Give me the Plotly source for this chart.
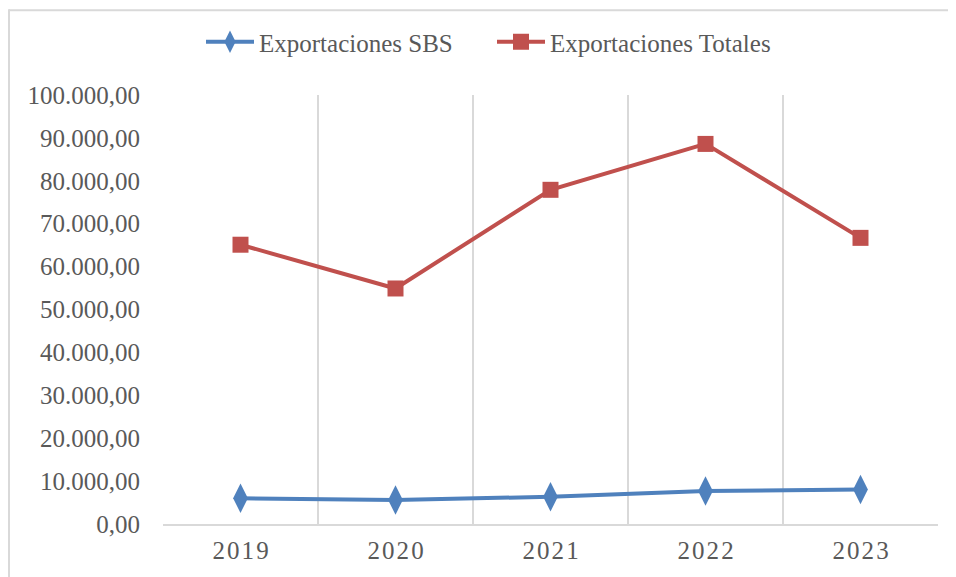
import plotly.graph_objects as go

years = ["2019", "2020", "2021", "2022", "2023"]
sbs = [6000, 5600, 6350, 7700, 8050]
totales = [65100, 54900, 77900, 88600, 66700]
y_ticks = [0, 10000, 20000, 30000, 40000, 50000, 60000, 70000, 80000, 90000, 100000]

FONT = "Liberation Serif"
GRAY = "#595959"
FS = 25

tick_text = ["\u200a".join(list(y)) for y in years]

fig = go.Figure()
fig.add_trace(go.Scatter(
    x=years, y=sbs, name="Exportaciones SBS", mode="lines+markers",
    line=dict(color="#4f81bd", width=4),
    marker=dict(symbol="diamond-tall", size=21, color="#4f81bd"),
))
fig.add_trace(go.Scatter(
    x=years, y=totales, name="Exportaciones Totales", mode="lines+markers",
    line=dict(color="#c0504d", width=4),
    marker=dict(symbol="square", size=16, color="#c0504d"),
))

# page body has an 8px offset
OFF = 8
W, H = 956 - OFF, 577 - OFF
L, T = 163 - OFF, 94 - OFF
R = W - (938 - OFF)
B = H - (524 - OFF)
pw, ph = W - L - R, H - T - B

def px_x(x):
    return (x - OFF - L) / pw

def px_y(y):
    return (H - B - (y - OFF)) / ph

fig.update_layout(
    width=W, height=H,
    margin=dict(l=L, r=R, t=T, b=B),
    paper_bgcolor="white", plot_bgcolor="white",
    separators=",.",
    font=dict(family=FONT, size=FS, color=GRAY),
    showlegend=True,
    legend=dict(orientation="h", x=px_x(492), xanchor="center",
                y=px_y(42), yanchor="middle",
                font=dict(family=FONT, size=FS, color=GRAY),
                itemwidth=48, entrywidth=228, entrywidthmode="pixels",
                tracegroupgap=0),
    shapes=[
        dict(type="line", xref="paper", yref="paper", x0=px_x(9), x1=px_x(9),
             y0=px_y(8), y1=px_y(600), line=dict(color="#d9d9d9", width=2)),
        dict(type="line", xref="paper", yref="paper", x0=px_x(9), x1=px_x(960),
             y0=px_y(9), y1=px_y(9), line=dict(color="#d9d9d9", width=2)),
    ],
)

fig.update_xaxes(
    type="category", range=[-0.5, 4.5],
    tickmode="array", tickvals=years, ticktext=tick_text,
    tickson="boundaries", ticks="",
    showgrid=True, gridcolor="#d9d9d9", gridwidth=2,
    showline=True, linecolor="#d9d9d9", linewidth=2,
    tickfont=dict(family=FONT, size=FS, color=GRAY),
    ticklabelstandoff=3,
    zeroline=False,
)
fig.update_yaxes(
    range=[0, 100000], tickmode="array", tickvals=y_ticks,
    tickformat=",.2f", showgrid=False, zeroline=False, showline=False,
    ticks="", ticklen=0, ticklabelstandoff=22,
    tickfont=dict(family=FONT, size=FS, color=GRAY),
)

fig.write_html("out.html")
